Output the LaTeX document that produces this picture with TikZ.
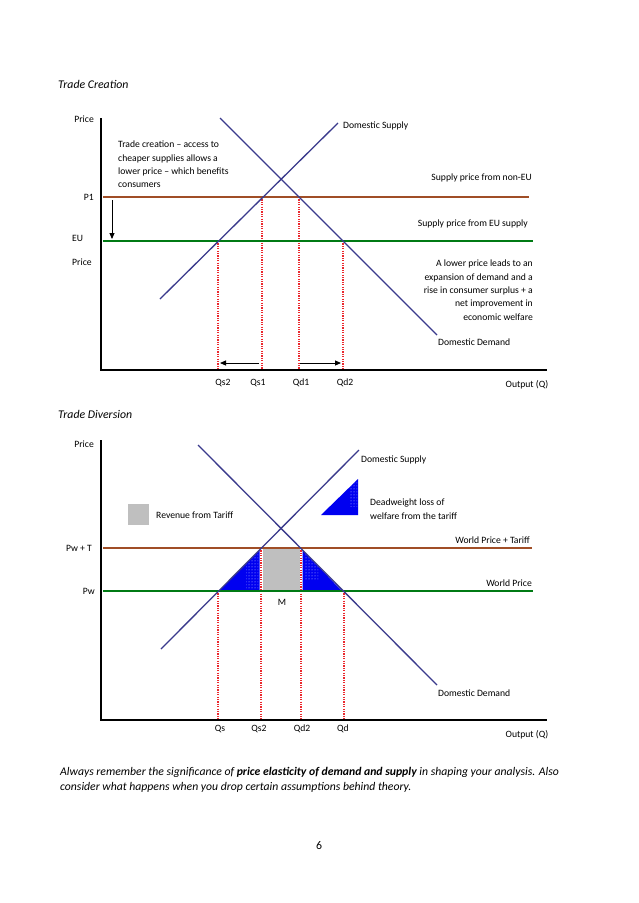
\documentclass[tikz,border=0pt]{standalone}
\usepackage{fontspec}
\setmainfont{Carlito}
\usetikzlibrary{arrows.meta,patterns}
\definecolor{curvecol}{RGB}{58,58,140}
\definecolor{brownline}{RGB}{160,78,38}
\definecolor{greenline}{RGB}{0,122,20}
\definecolor{tariffgrey}{RGB}{191,191,191}
\definecolor{dwlblue}{RGB}{0,0,240}
\definecolor{dotred}{RGB}{235,40,45}
\begin{document}
\begin{tikzpicture}[x=1pt,y=-1pt,
  lbl/.style={inner sep=0pt, font=\fontsize{9.65}{13.3}\selectfont},
  ttl/.style={inner sep=0pt, font=\fontsize{11.8}{15}\selectfont\itshape},
  axisline/.style={line width=1.8pt, black},
  curveline/.style={line width=1.3pt, curvecol},
  pricebrown/.style={line width=2.2pt, brownline},
  pricegreen/.style={line width=2.2pt, greenline},
  pricebrownthin/.style={line width=1.4pt, brownline},
  pricegreenthin/.style={line width=1.4pt, greenline},
  reddot/.style={dotred, line width=1.1pt, dash pattern=on 1.1pt off 1.3pt},
  movearrow/.style={line width=0.9pt, black, -{Triangle[length=6pt,width=5pt]}},
  dwl/.style={fill=dwlblue, draw=none},
  dwldots/.style={pattern=dots, pattern color=white!80!blue},
  revbox/.style={fill=tariffgrey, draw=none}
]
\useasboundingbox (0,0) rectangle (638,903);
\fill[white] (0,0) rectangle (638,903);

% ================= TOP CHART: Trade Creation =================
\node[ttl, anchor=west] (t1title) at (58,84) {Trade Creation};

\coordinate (tO) at (101,370);
\coordinate (tYtop) at (101,118);
\coordinate (tXend) at (547,370);

% key points
\coordinate (tDa) at (220,118);
\coordinate (tDb) at (437,335);
\coordinate (tSa) at (160,299);
\coordinate (tSb) at (338,123);
\coordinate (tP1a) at (103,197);
\coordinate (tP1b) at (529,197);
\coordinate (tEUa) at (103,241);
\coordinate (tEUb) at (533,241);
\coordinate (tQs1) at (262,197);
\coordinate (tQd1) at (299,197);
\coordinate (tQs2) at (218,241);
\coordinate (tQd2) at (343,241);

% red dotted drop lines
\draw[reddot] (tQs1) -- (tQs1 |- tO);
\draw[reddot] (tQd1) -- (tQd1 |- tO);
\draw[reddot] (tQs2) -- (tQs2 |- tO);
\draw[reddot] (tQd2) -- (tQd2 |- tO);

% price lines
\draw[pricebrown] (tP1a) -- (tP1b);
\draw[pricegreen] (tEUa) -- (tEUb);

% demand and supply
\draw[curveline] (tDa) -- (tDb);
\draw[curveline] (tSa) -- (tSb);

% axes
\draw[axisline] (tYtop) -- (tO) -- (tXend);

% arrows
\coordinate (tArA) at (112,200);
\coordinate (tArB) at (112,239);
\draw[movearrow] (tArA) -- (tArB);
\coordinate (tLa) at (259,363);
\coordinate (tLb) at (220,363);
\draw[movearrow] (tLa) -- (tLb);
\coordinate (tRa) at (300,363);
\coordinate (tRb) at (341,363);
\draw[movearrow] (tRa) -- (tRb);

% axis labels
\node[lbl, anchor=east] (tPrice) at (94,119) {Price};
\node[lbl, anchor=east] (tP1) at (94,197) {P1};
\node[lbl, anchor=west] (tEU) at (72,238) {EU};
\node[lbl, anchor=west] (tPrice2) at (72,262) {Price};
\node[lbl] (tlQs2) at (223,383) {Qs2};
\node[lbl] (tlQs1) at (258,383) {Qs1};
\node[lbl] (tlQd1) at (301,383) {Qd1};
\node[lbl] (tlQd2) at (345,383) {Qd2};
\node[lbl] (tOut) at (527,385) {Output (Q)};

% annotations
\node[lbl, anchor=north west, align=left] (tNote) at (118,141)
  {Trade creation – access to\\cheaper supplies allows a\\lower price – which benefits\\consumers};
\node[lbl, anchor=west] (tDS) at (343,126) {Domestic Supply};
\node[lbl, anchor=east] (tNonEU) at (532,178) {Supply price from non-EU};
\node[lbl, anchor=east] (tEUsup) at (528,224) {Supply price from EU supply};
\node[lbl, anchor=north east, align=right] (tLower) at (533,260)
  {A lower price leads to an\\expansion of demand and a\\rise in consumer surplus + a\\net improvement in\\economic welfare};
\node[lbl, anchor=west] (tDD) at (438,342) {Domestic Demand};

% ================= BOTTOM CHART: Trade Diversion =================
\node[ttl, anchor=west] (t2title) at (58,414) {Trade Diversion};

\coordinate (bO) at (101,720);
\coordinate (bYtop) at (101,440);
\coordinate (bXend) at (547,720);

\coordinate (bDa) at (198,445);
\coordinate (bDb) at (437,685);
\coordinate (bSa) at (161,649);
\coordinate (bSb) at (359,450);
\coordinate (bTa) at (103,548);
\coordinate (bTb) at (532,548);
\coordinate (bWa) at (103,591);
\coordinate (bWb) at (533,591);
\coordinate (bQs2) at (261,548);
\coordinate (bQd2) at (301,548);
\coordinate (bQs) at (218,591);
\coordinate (bQd) at (344,591);

% shaded areas
\fill[dwl] (220,590) -- (259.5,550) -- (259.5,590) -- cycle;
\begin{scope}
  \clip (220,590) -- (259.5,550) -- (259.5,590) -- cycle;
  \fill[dwldots] (246,550) rectangle (258,588);
\end{scope}
\fill[dwl] (302.5,550) -- (341,590) -- (302.5,590) -- cycle;
\begin{scope}
  \clip (302.5,550) -- (341,590) -- (302.5,590) -- cycle;
  \fill[dwldots] (304,552) rectangle (318,580);
\end{scope}
\fill[revbox] (263,549) rectangle (299.5,590);

% red dotted drop lines
\draw[reddot] (bQs2) -- (bQs2 |- bO);
\draw[reddot] (bQd2) -- (bQd2 |- bO);
\draw[reddot] (bQs) -- (bQs |- bO);
\draw[reddot] (bQd) -- (bQd |- bO);

% price lines
\draw[pricebrownthin] (bTa) -- (bTb);
\draw[pricegreenthin] (bWa) -- (bWb);

% demand and supply
\draw[curveline] (bDa) -- (bDb);
\draw[curveline] (bSa) -- (bSb);

% axes
\draw[axisline] (bYtop) -- (bO) -- (bXend);

% legend
\fill[revbox] (128,504) rectangle (149,525);
\fill[dwl] (321,515) -- (358,479) -- (358,515) -- cycle;
\begin{scope}
  \clip (321,515) -- (358,479) -- (358,515) -- cycle;
  \fill[dwldots] (349,481) rectangle (357,506);
\end{scope}

% labels
\node[lbl, anchor=east] (bPrice) at (94,444) {Price};
\node[lbl, anchor=east] (bPwT) at (92,548) {Pw + T};
\node[lbl, anchor=east] (bPw) at (95,591) {Pw};
\node[lbl] (blQs) at (220,729) {Qs};
\node[lbl] (blQs2) at (259,729) {Qs2};
\node[lbl] (blQd2) at (302,729) {Qd2};
\node[lbl] (blQd) at (343,729) {Qd};
\node[lbl] (bOut) at (527,735) {Output (Q)};
\node[lbl] (bM) at (282,602) {M};
\node[lbl, anchor=west] (bDS) at (361,460) {Domestic Supply};
\node[lbl, anchor=north west, align=left] (bDWL) at (370,499)
  {Deadweight loss of\\welfare from the tariff};
\node[lbl, anchor=west] (bRev) at (156,515) {Revenue from Tariff};
\node[lbl, anchor=east] (bWPT) at (530,540) {World Price + Tariff};
\node[lbl, anchor=east] (bWP) at (532,583) {World Price};
\node[lbl, anchor=west] (bDD) at (438,693) {Domestic Demand};

% ================= footer text =================
\node[inner sep=0pt, anchor=north west, align=left,
      font=\fontsize{11.7}{15}\selectfont\itshape] (note) at (60,767)
  {Always remember the significance of \textbf{price elasticity of demand and supply} in shaping your analysis. Also\\consider what happens when you drop certain assumptions behind theory.};
\node[inner sep=0pt, font=\fontsize{11.8}{15}\selectfont] (pagenum) at (319,846) {6};
\end{tikzpicture}
\end{document}
